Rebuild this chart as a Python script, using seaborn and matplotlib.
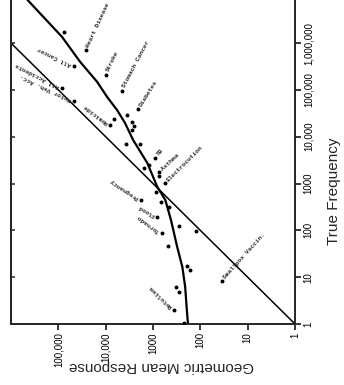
import numpy as np
import pandas as pd
import matplotlib
matplotlib.use("Agg")
import matplotlib.pyplot as plt
import seaborn as sns

# causes of death: true yearly frequency vs geometric mean of judged frequency
causes = ["", "Heart Disease", "All Cancer", "Stroke", "All Accidents", "Stomach Cancer",
          "Motor Veh. Acc.", "Diabetes", "", "", "", "Homicide", "", "", "", "",
          "TB", "", "", "Asthma", "", "Electrocution", "", "Pregnancy", "", "",
          "Flood", "", "", "Tornado", "", "", "", "", "", "Botulism",
          "Smallpox Vaccin.", ""]
true_freq = [1740000, 708000, 324000, 209000, 110000, 95500,
             57500, 38900, 29500, 24000, 20900, 17800, 17000, 14100, 7080, 7080,
             3550, 2510, 2140, 1780, 1450, 1020, 660, 450, 410, 316,
             195, 123, 98, 87, 47, 17, 14, 6.2, 4.8, 2.0,
             8.3, 1.05]
mean_resp = [77600, 25700, 45700, 9800, 83000, 4470,
             45700, 2040, 3470, 6600, 2750, 7940, 2510, 2750, 3720, 1860,
             890, 1200, 1550, 740, 740, 550, 850, 1780, 680, 460,
             810, 280, 123, 650, 480, 190, 166, 320, 280, 355,
             35, 220]

# curved best fit line
fit_freq = [1.0, 1.74, 6.17, 16.6, 44.7, 166, 447, 851, 2750, 8510,
            19500, 37200, 70800, 148000, 398000, 1350000, 8320000]
fit_resp = [182, 191, 209, 240, 309, 417, 550, 813, 1320, 2630,
            3890, 5750, 9330, 15100, 34700, 83200, 447000]

# perfect accuracy line
ident = [1, 1000000]

freq_ticks = [1, 10, 100, 1000, 10000, 100000, 1000000]
freq_labels = ["1", "10", "100", "1000", "10,000", "100,000", "1,000,000"]
resp_ticks = [1, 10, 100, 1000, 10000, 100000]
resp_labels = ["1", "10", "100", "1000", "10,000", "100,000"]

df = pd.DataFrame({"cause": causes, "freq": true_freq, "resp": mean_resp})

label_angle = {"Heart Disease": 65, "Stroke": 64, "Stomach Cancer": 62, "Diabetes": 58,
               "TB": 48, "Asthma": 43, "Electrocution": 45, "Smallpox Vaccin.": 48,
               "All Cancer": 154, "All Accidents": 153, "Motor Veh. Acc.": 155,
               "Homicide": 143, "Pregnancy": 147, "Flood": 150, "Tornado": 144,
               "Botulism": 136}

sns.set_style("ticks")
plt.rcParams["font.family"] = ["Liberation Sans", "DejaVu Sans"]

fig = plt.figure(figsize=(3.44, 3.85), dpi=100)
ax = fig.add_axes([11 / 344, 61 / 385, 284 / 344, 324 / 385])
ax.set_xscale("log")
ax.set_yscale("log")

sns.lineplot(x=ident, y=ident, ax=ax, color="black", lw=1.1, estimator=None)
sns.lineplot(x=fit_resp, y=fit_freq, ax=ax, color="black", lw=1.6,
             sort=False, estimator=None)
sns.scatterplot(data=df, x="resp", y="freq", ax=ax, color="black", s=8,
                linewidth=0, zorder=3)

for _, row in df[df["cause"] != ""].iterrows():
    ang = label_angle[row["cause"]]
    d = 2.5
    ax.annotate(row["cause"], (row["resp"], row["freq"]),
                xytext=(d * np.cos(np.radians(ang)), d * np.sin(np.radians(ang))),
                textcoords="offset points", rotation=ang, rotation_mode="anchor",
                ha="left", va="center", fontsize=4.5, family="Liberation Mono",
                fontweight="bold")

ax.set_xlim(1000000, 1)
ax.set_ylim(1, 10 ** 6.92)

tick_font = ["Liberation Sans Narrow", "Liberation Sans"]
ax.set_xticks(resp_ticks)
ax.set_xticklabels(resp_labels, rotation=90, fontsize=7, family=tick_font)
ax.xaxis.set_minor_locator(matplotlib.ticker.NullLocator())
ax.yaxis.tick_right()
ax.set_yticks(freq_ticks)
ax.set_yticklabels(freq_labels, rotation=90, fontsize=7, va="center", family=tick_font)
ax.yaxis.set_minor_locator(matplotlib.ticker.NullLocator())
ax.tick_params(axis="both", direction="out", length=4, width=1.1, pad=2, colors="black")

sec = ax.secondary_yaxis("left")
sec.set_yticks(freq_ticks)
sec.set_yticklabels([])
sec.yaxis.set_minor_locator(matplotlib.ticker.NullLocator())
sec.tick_params(direction="in", length=3, width=1.1)

ax.spines["top"].set_visible(False)
for s in ["left", "right", "bottom"]:
    ax.spines[s].set_linewidth(1.4)
sec.spines["left"].set_linewidth(1.4)

ax.set_xlabel("Geometric Mean Response", rotation=180, fontsize=11)
ax.xaxis.set_label_coords(0.528, -0.13)
ax.xaxis.label.set_va("center")
ax.yaxis.set_label_position("right")
ax.set_ylabel("True Frequency", rotation=90, fontsize=11)
ax.yaxis.set_label_coords(1.137, 0.41)
ax.yaxis.label.set_va("center")

fig.savefig("out.png", dpi=100)
